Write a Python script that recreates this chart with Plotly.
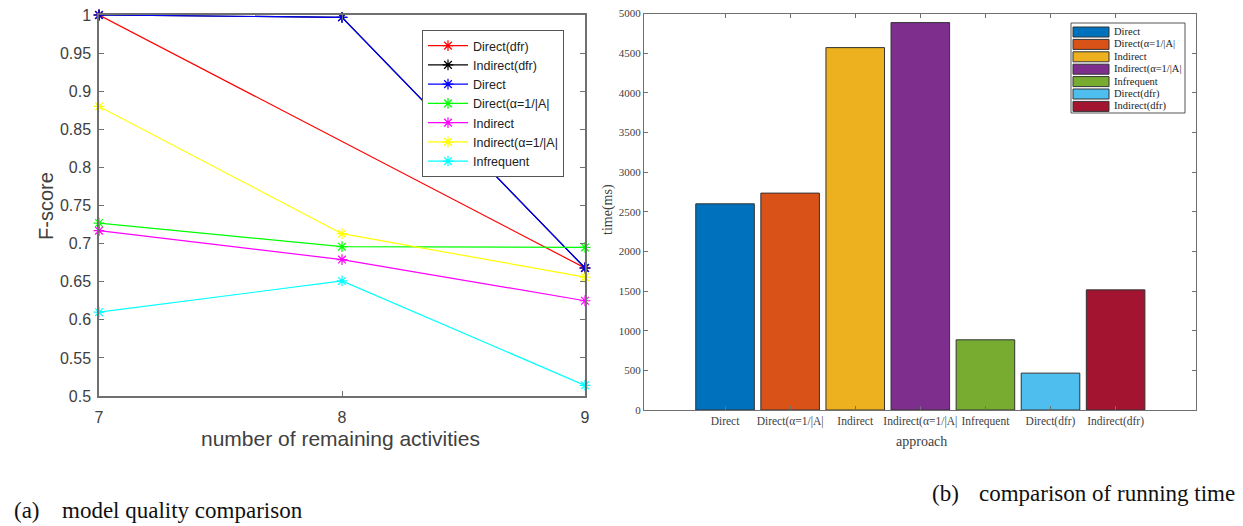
import plotly.graph_objects as go

# ---------------- data ----------------
activities = [7, 8, 9]
direct_dfr_x = [7, 9]
direct_dfr = [1.0, 0.668]
indirect_dfr = [1.0, 0.997, 0.668]
direct = [1.0, 0.997, 0.668]
direct_alpha = [0.727, 0.696, 0.695]
indirect = [0.717, 0.679, 0.625]
indirect_alpha = [0.880, 0.713, 0.656]
infrequent = [0.610, 0.651, 0.514]

approaches = ["Direct", "Direct(α=1/|A|", "Indirect", "Indirect(α=1/|A|",
              "Infrequent", "Direct(dfr)", "Indirect(dfr)"]
run_time = [2600, 2735, 4570, 4885, 885, 465, 1515]
bar_colors = ["#0072BD", "#D95319", "#EDB120", "#7E2F8E", "#77AC30", "#4DBEEE", "#A2142F"]

W, H = 1243, 526
OFF = 8  # page body margin
def px(x): return (x - OFF) / W
def py(y): return 1 - (y - OFF) / H

SANS = "Liberation Sans, Arial, sans-serif"
SERIF = "Liberation Serif, Times New Roman, serif"

fig = go.Figure()

line_series = [
    ("Direct(dfr)", direct_dfr_x, direct_dfr, "#FF0000"),
    ("Indirect(dfr)", activities, indirect_dfr, "#000000"),
    ("Direct", activities, direct, "#0000FF"),
    ("Direct(α=1/|A|", activities, direct_alpha, "#00FF00"),
    ("Indirect", activities, indirect, "#FF00FF"),
    ("Indirect(α=1/|A|", activities, indirect_alpha, "#FFFF00"),
    ("Infrequent", activities, infrequent, "#00FFFF"),
]
for name, xs, ys, c in line_series:
    fig.add_trace(go.Scatter(
        x=xs, y=ys, name=name, mode="lines+markers",
        line=dict(color=c, width=1.2),
        marker=dict(symbol="asterisk-open", size=9, color=c, line=dict(color=c, width=1.2)),
        cliponaxis=False, xaxis="x", yaxis="y", legend="legend"))

for i, (a, v) in enumerate(zip(approaches, run_time)):
    fig.add_trace(go.Bar(
        x=[i], y=[v], name=a, width=0.9, showlegend=False,
        marker=dict(color=bar_colors[i], line=dict(color="#333333", width=1)),
        xaxis="x2", yaxis="y2"))

axis_col = "#707070"
shapes = []
annotations = []

# manual legend for the bar chart (compact MATLAB-like spacing)
lx0, lx1, ly0, ly1 = 1071, 1185, 23, 113
shapes.append(dict(type="rect", xref="paper", yref="paper", x0=px(lx0), x1=px(lx1),
                   y0=py(ly1), y1=py(ly0), line=dict(color="#555555", width=1), fillcolor="white",
                   layer="above"))
for i, (a, c) in enumerate(zip(approaches, bar_colors)):
    cy = 32 + i * 12.4
    shapes.append(dict(type="rect", xref="paper", yref="paper", x0=px(1073), x1=px(1109),
                       y0=py(cy + 5), y1=py(cy - 5), fillcolor=c,
                       line=dict(color="#333333", width=1), layer="above"))
    annotations.append(dict(text=a, x=px(1112), y=py(cy), xref="paper", yref="paper",
                            xanchor="left", yanchor="middle", showarrow=False,
                            font=dict(family=SERIF, size=10.5, color="#222222")))

def label(text, x, y, family, size, color="#404040", angle=0, xanchor="center"):
    return dict(text=text, x=px(x), y=py(y), xref="paper", yref="paper", textangle=angle,
                xanchor=xanchor, yanchor="middle", showarrow=False,
                font=dict(family=family, size=size, color=color))

annotations += [
    label("F-score", 46, 206, SANS, 20, angle=-90),
    label("number of remaining activities", 341, 438, SANS, 21),
    label("time(ms)", 608, 210, SERIF, 14, angle=-90),
    label("approach", 921, 441, SERIF, 14),
    label("(a)", 12, 510, SERIF, 23, "#111111", xanchor="left"),
    label("model quality comparison", 60, 510, SERIF, 23, "#111111", xanchor="left"),
    label("(b)", 930, 493, SERIF, 23, "#111111", xanchor="left"),
    label("comparison of running time", 977, 493, SERIF, 23, "#111111", xanchor="left"),
]

fig.update_layout(
    width=W, height=H, margin=dict(l=0, r=0, t=0, b=0, pad=0),
    paper_bgcolor="white", plot_bgcolor="white",
    showlegend=True,
    xaxis=dict(domain=[px(99), px(585)], range=[7, 9], tickvals=activities, automargin=False,
               ticks="inside", ticklen=5, tickcolor=axis_col, showline=True, linecolor=axis_col,
               linewidth=1.5, mirror="ticks", showgrid=False, zeroline=False, ticklabelstandoff=6,
               ticklabeloverflow="allow",
               tickfont=dict(family=SANS, size=16, color="#404040")),
    yaxis=dict(domain=[py(396), py(15)], range=[0.5, 1], dtick=0.05, tick0=0.5, automargin=False,
               ticks="inside", ticklen=5, tickcolor=axis_col, showline=True, linecolor=axis_col,
               linewidth=1.5, mirror="ticks", showgrid=False, zeroline=False, ticklabelstandoff=3,
               ticklabeloverflow="allow",
               tickfont=dict(family=SANS, size=16, color="#404040")),
    xaxis2=dict(domain=[px(644), px(1196)], range=[-1.245, 7.235], anchor="y2", automargin=False,
                tickvals=list(range(len(approaches))), ticktext=approaches,
                ticks="inside", ticklen=4, tickcolor=axis_col, showline=True, linecolor=axis_col,
                linewidth=1, mirror="ticks", showgrid=False, zeroline=False, tickangle=0,
                ticklabeloverflow="allow",
                tickfont=dict(family=SERIF, size=11.5, color="#404040")),
    yaxis2=dict(domain=[py(410), py(13.5)], range=[0, 5000], dtick=500, anchor="x2", automargin=False,
                ticks="inside", ticklen=4, tickcolor=axis_col, showline=True, linecolor=axis_col,
                linewidth=1, mirror="ticks", showgrid=False, zeroline=False,
                ticklabeloverflow="allow",
                tickfont=dict(family=SERIF, size=11, color="#404040")),
    legend=dict(x=px(422), y=py(30), xanchor="left", yanchor="top",
                bgcolor="white", bordercolor="#555555", borderwidth=1,
                font=dict(family=SANS, size=12.5, color="#222222"),
                itemwidth=40, tracegroupgap=0),
    bargap=0.1,
    shapes=shapes,
    annotations=annotations,
)

fig.write_html("out.html")
